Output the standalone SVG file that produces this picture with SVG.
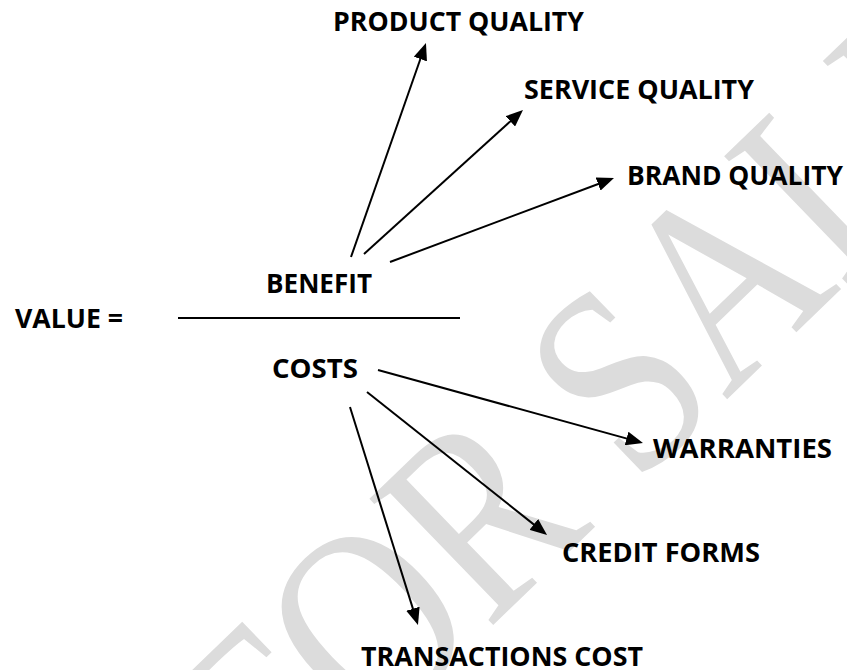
<svg xmlns="http://www.w3.org/2000/svg" width="847" height="670" viewBox="0 0 847 670">
  <style>
    .lbl { font-family: "Open Sans", "Liberation Sans", sans-serif; font-weight: 700; font-size: 27px; fill: #000; }
    .conn { stroke: #000; stroke-width: 2; fill: none; }
    .wm { font-family: "Liberation Serif", "Times New Roman", serif; font-size: 270px; fill: #dcdcdc; }
  </style>
  <defs>
    <marker id="arrow" viewBox="0 0 17 14" markerUnits="userSpaceOnUse" markerWidth="17" markerHeight="14" refX="8" refY="7" orient="auto">
      <path d="M0,0 L17,7 L0,14 Z" fill="#000"/>
    </marker>
  </defs>
  <rect width="847" height="670" fill="#fff"/>

  <!-- background watermark -->
  <g id="watermark" transform="translate(281,830) rotate(-44) scale(0.832,1)">
    <text class="wm" x="0" y="0">FOR SALE</text>
  </g>

  <!-- fraction: VALUE = BENEFIT / COSTS -->
  <g id="value">
    <text class="lbl" x="15" y="328" textLength="108" lengthAdjust="spacingAndGlyphs">VALUE =</text>
  </g>
  <g id="fraction-bar">
    <line x1="178" y1="318" x2="460" y2="318" stroke="#000" stroke-width="2"/>
  </g>
  <g id="benefit">
    <text class="lbl" x="266" y="293" textLength="106" lengthAdjust="spacingAndGlyphs">BENEFIT</text>
  </g>
  <g id="costs">
    <text class="lbl" x="272" y="378" textLength="86" lengthAdjust="spacingAndGlyphs">COSTS</text>
  </g>

  <!-- benefit components -->
  <g id="product-quality">
    <text class="lbl" x="333" y="31" textLength="251" lengthAdjust="spacingAndGlyphs">PRODUCT QUALITY</text>
  </g>
  <g id="service-quality">
    <text class="lbl" x="524" y="99" textLength="230" lengthAdjust="spacingAndGlyphs">SERVICE QUALITY</text>
  </g>
  <g id="brand-quality">
    <text class="lbl" x="627" y="185" textLength="216" lengthAdjust="spacingAndGlyphs">BRAND QUALITY</text>
  </g>

  <!-- cost components -->
  <g id="warranties">
    <text class="lbl" x="653" y="458" textLength="179" lengthAdjust="spacingAndGlyphs">WARRANTIES</text>
  </g>
  <g id="credit-forms">
    <text class="lbl" x="562" y="562" textLength="198" lengthAdjust="spacingAndGlyphs">CREDIT FORMS</text>
  </g>
  <g id="transactions-cost">
    <text class="lbl" x="361" y="666" textLength="282" lengthAdjust="spacingAndGlyphs">TRANSACTIONS COST</text>
  </g>

  <!-- connectors -->
  <g id="connectors" class="conn">
    <line x1="351" y1="257" x2="423.0" y2="51.5" marker-end="url(#arrow)"/>
    <line x1="364" y1="254" x2="516.3" y2="116.0" marker-end="url(#arrow)"/>
    <line x1="390" y1="262" x2="605.6" y2="181.2" marker-end="url(#arrow)"/>
    <line x1="378" y1="370" x2="634.3" y2="440.6" marker-end="url(#arrow)"/>
    <line x1="367" y1="392" x2="540.0" y2="529.4" marker-end="url(#arrow)"/>
    <line x1="350" y1="407" x2="415.3" y2="616.4" marker-end="url(#arrow)"/>
  </g>
</svg>
